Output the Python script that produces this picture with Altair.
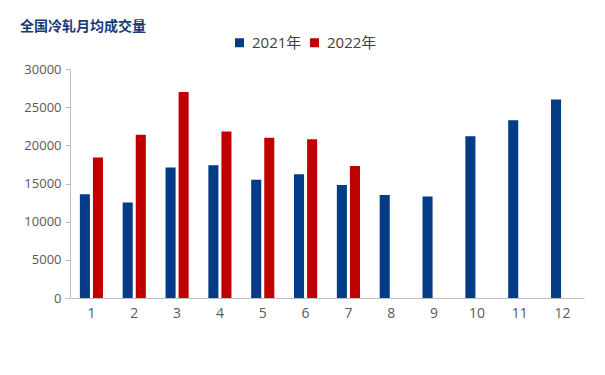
import altair as alt
import pandas as pd

months = [str(i) for i in range(1, 13)]
years = ["2021年", "2022年"]
vals_2021 = [13600, 12500, 17100, 17400, 15500, 16200, 14800, 13500, 13300, 21200, 23300, 26000]
vals_2022 = [18400, 21400, 27000, 21800, 21000, 20800, 17300]

rows = []
for m, v in zip(months, vals_2021):
    rows.append({"month": m, "year": years[0], "value": v})
for m, v in zip(months, vals_2022):
    rows.append({"month": m, "year": years[1], "value": v})
df = pd.DataFrame(rows)

FONT = "'Open Sans', 'Noto Sans CJK SC', sans-serif"

chart = alt.Chart(df).mark_bar().encode(
    x=alt.X("month:N", sort=months,
            scale=alt.Scale(paddingInner=0.46, paddingOuter=0.23),
            axis=alt.Axis(title=None, labelAngle=0, ticks=False, labelPadding=8,
                          labelFontSize=14, labelColor="#595959", labelFont=FONT,
                          domainColor="#bfbfbf")),
    xOffset=alt.XOffset("year:N", sort=years,
                        scale=alt.Scale(domain=years, paddingInner=0.23, paddingOuter=0)),
    y=alt.Y("value:Q", scale=alt.Scale(domain=[0, 30000], nice=False),
            axis=alt.Axis(title=None, values=list(range(0, 30001, 5000)), grid=False,
                          format="d",
                          labelFontSize=13, labelColor="#595959", labelFont=FONT,
                          tickColor="#bfbfbf", domainColor="#bfbfbf", tickSize=5,
                          labelPadding=4)),
    color=alt.Color("year:N", sort=years,
                    scale=alt.Scale(domain=years, range=["#043b86", "#c00000"]),
                    legend=alt.Legend(title=None, orient="none", legendX=162, legendY=-34,
                                      direction="horizontal", symbolType="square",
                                      symbolSize=81, symbolStrokeWidth=0,
                                      labelFontSize=15, labelColor="#404040",
                                      labelFont=FONT, columnPadding=5, labelOffset=5)),
).properties(
    width=514,
    height=229,
    title=alt.TitleParams("全国冷轧月均成交量", anchor="start", frame="group", dx=-50,
                          offset=1, font="'Noto Sans CJK SC', sans-serif", fontSize=14,
                          fontWeight="bold", color="#1a3a78"),
    autosize=alt.AutoSizeParams(type="none"),
    padding={"left": 62, "top": 61, "right": 10, "bottom": 50},
).configure_view(stroke=None)

chart.save("out.html", embed_options={"renderer": "svg", "actions": False})
